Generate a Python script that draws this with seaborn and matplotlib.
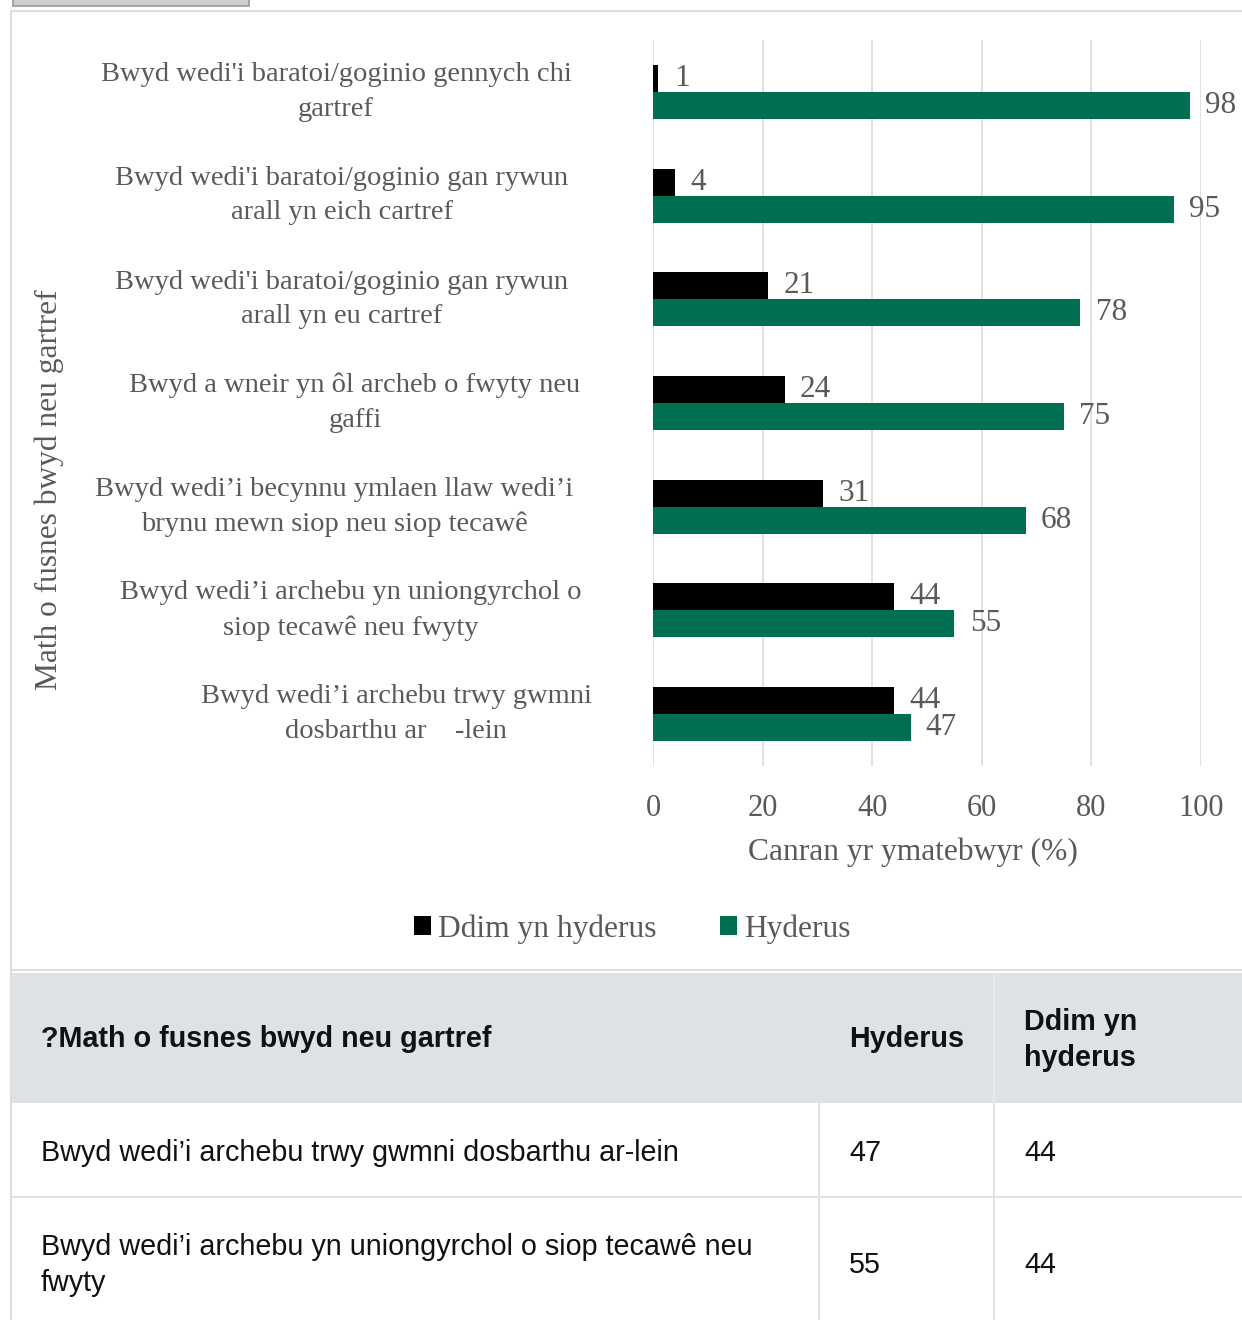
import matplotlib
matplotlib.use("Agg")
import matplotlib.pyplot as plt
from matplotlib.patches import Rectangle
from matplotlib.transforms import ScaledTranslation
import pandas as pd
import seaborn as sns

# ---- data ---------------------------------------------------------------
categories = [
    "Bwyd wedi'i baratoi/goginio gennych chi\ngartref",
    "Bwyd wedi'i baratoi/goginio gan rywun\narall yn eich cartref",
    "Bwyd wedi'i baratoi/goginio gan rywun\narall yn eu cartref",
    "Bwyd a wneir yn ôl archeb o fwyty neu\ngaffi",
    "Bwyd wedi’i becynnu ymlaen llaw wedi’i\nbrynu mewn siop neu siop tecawê",
    "Bwyd wedi’i archebu yn uniongyrchol o\nsiop tecawê neu fwyty",
    "Bwyd wedi’i archebu trwy gwmni\ndosbarthu ar    -lein",
]
ddim_yn_hyderus = [1, 4, 21, 24, 31, 44, 44]
hyderus = [98, 95, 78, 75, 68, 55, 47]
series_names = ["Ddim yn hyderus", "Hyderus"]
x_ticks = [0, 20, 40, 60, 80, 100]

table_header = ["?Math o fusnes bwyd neu gartref", "Hyderus", "Ddim yn\nhyderus"]
table_rows = [
    "Bwyd wedi’i archebu trwy gwmni dosbarthu ar-lein",
    "Bwyd wedi’i archebu yn uniongyrchol o siop tecawê neu\nfwyty",
]
table_index = [6, 5]  # which chart categories the table rows repeat

# ---- layout / style -----------------------------------------------------
W, H = 1242, 1320
GREEN = "#006E51"
GREY_TEXT = "#595959"
label_centres = [336, 342, 342, 355, 334, 351, 396]  # px, centre of each category label


def fx(x):
    return x / W


def fy(y):
    return 1 - y / H


df = pd.DataFrame({
    "Math": categories * 2,
    "Canran": ddim_yn_hyderus + hyderus,
    "Cyfres": [series_names[0]] * len(categories) + [series_names[1]] * len(categories),
})

sns.set_theme(style="white")
plt.rcParams["font.family"] = ["Liberation Serif", "DejaVu Serif"]

fig = plt.figure(figsize=(W / 100, H / 100), dpi=100)
fig.patch.set_facecolor("white")

# chart container and the control strip above it
fig.patches.append(Rectangle((fx(13), fy(6)), fx(236), fy(-10) - fy(6),
                             transform=fig.transFigure, facecolor="#cfcfcf",
                             edgecolor="#9a9a9a", linewidth=1.2, zorder=-5))
fig.patches.append(Rectangle((fx(11), fy(970)), fx(1300), fy(11) - fy(970),
                             transform=fig.transFigure, facecolor="white",
                             edgecolor="#dddddd", linewidth=1.5, zorder=-5))

ax = fig.add_axes([fx(653), fy(766), fx(548), fy(40) - fy(766)])
ax.set_zorder(2)
sns.barplot(data=df, y="Math", x="Canran", hue="Cyfres", hue_order=series_names,
            palette=["#000000", GREEN], orient="h", width=0.52, saturation=1,
            linewidth=0, ax=ax)

ax.set_xlim(0, 100)
ax.set_ylim(len(categories) - 0.5, -0.5)
ax.set_xticks(x_ticks)
ax.xaxis.grid(True, color="#d9d9d9", linewidth=1.1)
ax.yaxis.grid(False)
ax.set_axisbelow(True)
for s in ax.spines.values():
    s.set_visible(False)
ax.set_facecolor("none")

ax.tick_params(axis="x", length=0, pad=20, labelsize=22, labelcolor=GREY_TEXT)
ax.tick_params(axis="y", length=0, pad=0, labelsize=20.5, labelcolor=GREY_TEXT)
for lab, cx in zip(ax.get_yticklabels(), label_centres):
    lab.set_ha("center")
    lab.set_va("center")
    lab.set_multialignment("center")
    lab.set_linespacing(1.5)
    lab.set_transform(lab.get_transform() +
                      ScaledTranslation((cx - 653) / 100, 0, fig.dpi_scale_trans))

for cont in ax.containers:
    ax.bar_label(cont, fmt="%g", padding=11, fontsize=22.5, color=GREY_TEXT)

ax.set_xlabel("Canran yr ymatebwyr (%)", fontsize=22.7, color=GREY_TEXT, va="center")
ax.xaxis.set_label_coords((913 - 653) / 548, -(852 - 766) / 726)
ax.set_ylabel("Math o fusnes bwyd neu gartref", fontsize=22.6, color=GREY_TEXT, va="center")
ax.yaxis.set_label_coords((49 - 653) / 548, 1 - (490 - 40) / 726)

handles, labels = ax.get_legend_handles_labels()
ax.get_legend().remove()
fig.legend(handles, labels, loc="center", bbox_to_anchor=(fx(632), fy(929)),
           ncol=2, frameon=False, fontsize=22.7, labelcolor=GREY_TEXT,
           handlelength=0.55, handleheight=0.55, handletextpad=0.22,
           columnspacing=2.0)

# ---- data table underneath ---------------------------------------------
LINE = "#dee2e6"
fig.patches.append(Rectangle((fx(11), fy(1103)), fx(1300), fy(973) - fy(1103),
                             transform=fig.transFigure, facecolor="#dee2e6",
                             edgecolor="none", zorder=-4))
for x in (819, 994):
    fig.lines.append(plt.Line2D([fx(x), fx(x)], [fy(1103), fy(1330)],
                                transform=fig.transFigure, color=LINE, linewidth=1.5))
fig.lines.append(plt.Line2D([fx(994), fx(994)], [fy(973), fy(1103)],
                            transform=fig.transFigure, color="#e9ecef", linewidth=1.2))
fig.lines.append(plt.Line2D([fx(11), fx(1300)], [fy(1197), fy(1197)],
                            transform=fig.transFigure, color=LINE, linewidth=1.5))
fig.lines.append(plt.Line2D([fx(11), fx(11)], [fy(970), fy(1330)],
                            transform=fig.transFigure, color="#dddddd", linewidth=1.5))

tkw = dict(family=["Liberation Sans", "DejaVu Sans"], fontsize=20.7, color="#111111",
           va="center", ha="left", linespacing=1.34)
fig.text(fx(41), fy(1039), table_header[0], fontweight="bold", **tkw)
fig.text(fx(849), fy(1039), table_header[1], fontweight="bold", **tkw)
fig.text(fx(1024), fy(1040), table_header[2], fontweight="bold", **tkw)
for row_y, text, idx in zip((1153, 1265), table_rows, table_index):
    fig.text(fx(41), fy(row_y), text, **tkw)
    fig.text(fx(849), fy(row_y), f"{hyderus[idx]:g}", **tkw)
    fig.text(fx(1024), fy(row_y), f"{ddim_yn_hyderus[idx]:g}", **tkw)

fig.savefig("out.png", dpi=100, facecolor="white")
